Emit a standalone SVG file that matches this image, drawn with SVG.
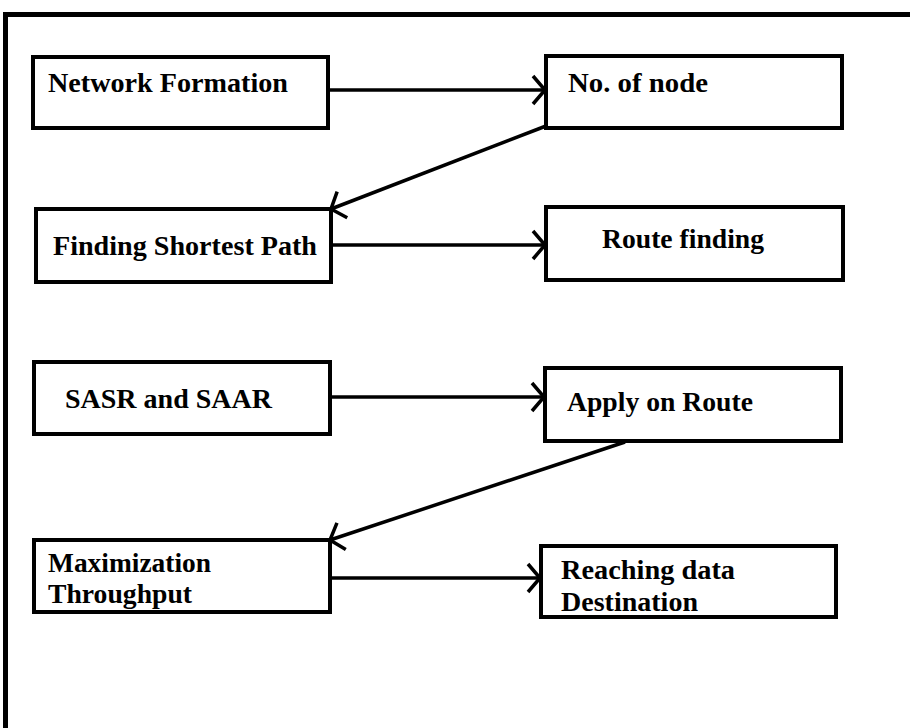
<svg xmlns="http://www.w3.org/2000/svg" width="910" height="728" viewBox="0 0 910 728">
<defs>
<style>
.box{fill:#fff;stroke:#000;stroke-width:4}
.lbl{font-family:"Liberation Serif","Times New Roman",serif;font-weight:bold;font-size:27.5px;fill:#000}
.edge{stroke:#000;stroke-width:3.5;fill:none}
</style>
<marker id="ah" markerUnits="userSpaceOnUse" markerWidth="30" markerHeight="34" refX="14" refY="16" orient="auto" viewBox="0 0 30 34">
<path d="M2,2 L14,16 L2,30" fill="none" stroke="#000" stroke-width="3.5"/>
</marker>
</defs>
<rect width="910" height="728" fill="#fff"/>
<g id="frame">
<path d="M5.5,728 V14.5 H910" fill="none" stroke="#000" stroke-width="5"/>
</g>
<g id="connectors">
<line class="edge" x1="328" y1="90" x2="545" y2="90" marker-end="url(#ah)"/>
<line class="edge" x1="546" y1="126" x2="331" y2="209" marker-end="url(#ah)"/>
<line class="edge" x1="331" y1="245" x2="545" y2="245" marker-end="url(#ah)"/>
<line class="edge" x1="330" y1="397" x2="544" y2="397" marker-end="url(#ah)"/>
<line class="edge" x1="625" y1="442" x2="330" y2="540" marker-end="url(#ah)"/>
<line class="edge" x1="330" y1="578" x2="540" y2="578" marker-end="url(#ah)"/>
</g>
<g id="n1"><rect class="box" x="33" y="57" width="295" height="71"/><text class="lbl" x="48" y="92" textLength="240" lengthAdjust="spacingAndGlyphs">Network Formation</text></g>
<g id="n2"><rect class="box" x="546" y="56" width="296" height="72"/><text class="lbl" x="568" y="92" textLength="140" lengthAdjust="spacingAndGlyphs">No. of node</text></g>
<g id="n3"><rect class="box" x="36" y="209" width="295" height="73"/><text class="lbl" x="53" y="255" textLength="264" lengthAdjust="spacingAndGlyphs">Finding Shortest Path</text></g>
<g id="n4"><rect class="box" x="546" y="207" width="297" height="73"/><text class="lbl" x="602" y="248" textLength="162" lengthAdjust="spacingAndGlyphs">Route finding</text></g>
<g id="n5"><rect class="box" x="34" y="362" width="296" height="72"/><text class="lbl" x="65" y="408" textLength="207" lengthAdjust="spacingAndGlyphs">SASR and SAAR</text></g>
<g id="n6"><rect class="box" x="545" y="368" width="296" height="73"/><text class="lbl" x="567" y="411" textLength="186" lengthAdjust="spacingAndGlyphs">Apply on Route</text></g>
<g id="n7"><rect class="box" x="34" y="540" width="296" height="72"/><text class="lbl" x="48" y="572" textLength="163" lengthAdjust="spacingAndGlyphs">Maximization</text><text class="lbl" x="48" y="603" textLength="144" lengthAdjust="spacingAndGlyphs">Throughput</text></g>
<g id="n8"><rect class="box" x="541" y="546" width="295" height="71"/><text class="lbl" x="561" y="579" textLength="174" lengthAdjust="spacingAndGlyphs">Reaching data</text><text class="lbl" x="561" y="611" textLength="137" lengthAdjust="spacingAndGlyphs">Destination</text></g>
</svg>
